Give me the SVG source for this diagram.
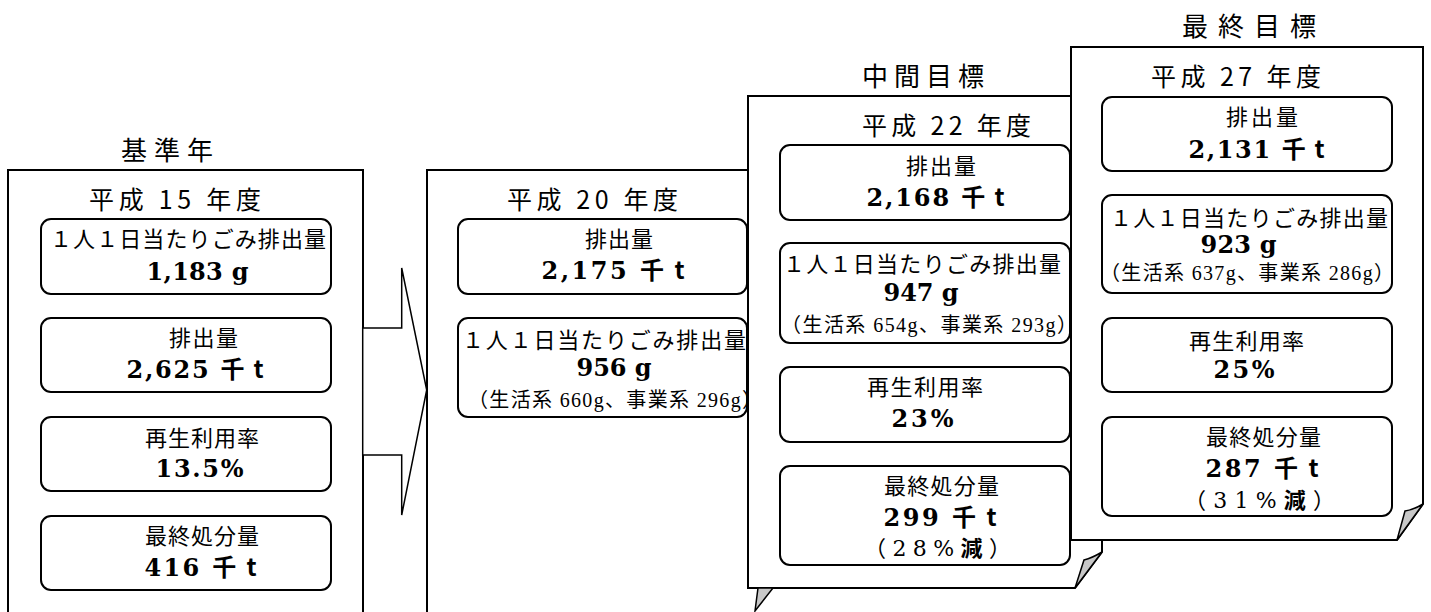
<svg xmlns="http://www.w3.org/2000/svg" width="1431" height="612" viewBox="0 0 1431 612">
<style>
.pan{fill:#fff;stroke:#000;stroke-width:2}
.box{fill:#fff;stroke:#000;stroke-width:2}
.flap{fill:#c8c8c8;stroke:#000;stroke-width:1.5;stroke-linejoin:miter}
.arr{fill:#fff;stroke:#000;stroke-width:1.5}
.tt{font-family:"Noto Sans CJK JP","Noto Sans CJK SC",sans-serif;font-size:26px;fill:#000}
.yr{font-family:"Noto Sans CJK JP","Noto Sans CJK SC",sans-serif;font-size:25px;fill:#000}
.lb{font-family:"Noto Sans CJK JP","Noto Sans CJK SC",sans-serif;font-size:22px;fill:#000}
.nm{font-family:"DejaVu Serif","Noto Sans CJK JP",serif;font-size:24px;font-weight:bold;fill:#000}
.u{font-family:"Noto Sans CJK JP","Noto Sans CJK SC",sans-serif;font-weight:bold}
.sb{font-family:"Liberation Serif","Noto Sans CJK JP",serif;font-size:20px;fill:#000}
.pc{font-family:"DejaVu Serif","Noto Sans CJK JP",serif;font-size:22px;fill:#000}
</style>

<g id="p1">
<rect class="pan" x="8" y="170" width="355" height="460"/>
<text class="tt" x="121" y="160" textLength="92" lengthAdjust="spacing">基準年</text>
<text class="yr" x="89" y="208.5" textLength="172" lengthAdjust="spacing">平成 15 年度</text>
<rect class="box" x="41" y="219" width="290" height="75" rx="10"/>
<text class="lb" x="50" y="247" textLength="276" lengthAdjust="spacing">１人１日当たりごみ排出量</text>
<text class="nm" x="146.5" y="280" textLength="102" lengthAdjust="spacing">1,183 g</text>
<rect class="box" x="41" y="318" width="290" height="74" rx="10"/>
<text class="lb" x="169" y="345.5" textLength="69" lengthAdjust="spacing">排出量</text>
<text class="nm" x="126.5" y="378" textLength="137" lengthAdjust="spacing">2,625 <tspan class="u">千 t</tspan></text>
<rect class="box" x="41" y="417" width="290" height="74" rx="10"/>
<text class="lb" x="145" y="445.5" textLength="114" lengthAdjust="spacing">再生利用率</text>
<text class="nm" x="155.5" y="477" textLength="88" lengthAdjust="spacing">13.5%</text>
<rect class="box" x="41" y="516" width="290" height="74" rx="10"/>
<text class="lb" x="145" y="543.5" textLength="114" lengthAdjust="spacing">最終処分量</text>
<text class="nm" x="144.5" y="575.5" textLength="112" lengthAdjust="spacing">416 <tspan class="u">千 t</tspan></text>
</g>

<g id="connectors">
<polygon class="arr" points="362.7,328 401.7,328 401.7,268 426.7,390 401.7,515 401.7,455 362.7,455"/>
</g>

<g id="p2">
<rect x="427" y="170" width="330" height="460" fill="#fff"/>
<path d="M427,640 V170 H757" fill="none" stroke="#000" stroke-width="2"/>
<text class="yr" x="507" y="209" textLength="171" lengthAdjust="spacing">平成 20 年度</text>
<rect class="box" x="458" y="219" width="289" height="75" rx="10"/>
<text class="lb" x="585" y="246.5" textLength="68" lengthAdjust="spacing">排出量</text>
<text class="nm" x="541.5" y="278.5" textLength="143" lengthAdjust="spacing">2,175 <tspan class="u">千 t</tspan></text>
<rect class="box" x="458" y="318" width="289" height="99" rx="10"/>
<text class="lb" x="462" y="348" textLength="284" lengthAdjust="spacing">１人１日当たりごみ排出量</text>
<text class="nm" x="576.5" y="376" textLength="75" lengthAdjust="spacing">956 g</text>
<text class="sb" x="468" y="407" textLength="294" lengthAdjust="spacing">（生活系 660g、事業系 296g）</text>
</g>

<g id="p3">
<text class="tt" x="862" y="86" textLength="122" lengthAdjust="spacing">中間目標</text>
<path class="pan" d="M748,96 H1102 V552 L1075,588 H748 Z"/>
<path class="flap" d="M1075,588 L1084,560 Q1092,558 1102,552 Z"/>
<path class="flap" d="M758,588 L773,588 L755,611 Z"/>
<text class="yr" x="862" y="135" textLength="169" lengthAdjust="spacing">平成 22 年度</text>
<rect class="box" x="780" y="145" width="290" height="75" rx="10"/>
<text class="lb" x="906" y="173.5" textLength="70" lengthAdjust="spacing">排出量</text>
<text class="nm" x="866.5" y="206" textLength="138" lengthAdjust="spacing">2,168 <tspan class="u">千 t</tspan></text>
<rect class="box" x="780" y="243" width="290" height="100" rx="10"/>
<text class="lb" x="783" y="271.5" textLength="278" lengthAdjust="spacing">１人１日当たりごみ排出量</text>
<text class="nm" x="883.5" y="301" textLength="75" lengthAdjust="spacing">947 g</text>
<text class="sb" x="781" y="332" textLength="296" lengthAdjust="spacing">（生活系 654g、事業系 293g）</text>
<rect class="box" x="780" y="367" width="290" height="75" rx="10"/>
<text class="lb" x="867" y="394.5" textLength="116" lengthAdjust="spacing">再生利用率</text>
<text class="nm" x="891.5" y="427" textLength="62" lengthAdjust="spacing">23%</text>
<rect class="box" x="780" y="466" width="290" height="99" rx="10"/>
<text class="lb" x="884" y="493.5" textLength="115" lengthAdjust="spacing">最終処分量</text>
<text class="nm" x="883.5" y="526" textLength="113" lengthAdjust="spacing">299 <tspan class="u">千 t</tspan></text>
<text class="pc" x="864" y="556" textLength="147" lengthAdjust="spacing">（28%<tspan class="u" font-weight="normal">減</tspan>）</text>
</g>

<g id="p4">
<text class="tt" x="1182" y="36" textLength="134" lengthAdjust="spacing">最終目標</text>
<path class="pan" d="M1071,47 H1423 V504 L1397,540 H1071 Z"/>
<path class="flap" d="M1397,540 L1405,511 Q1413,510 1423,504 Z"/>
<text class="yr" x="1151" y="86" textLength="170" lengthAdjust="spacing">平成 27 年度</text>
<rect class="box" x="1102" y="97" width="290" height="74" rx="10"/>
<text class="lb" x="1226" y="125" textLength="72" lengthAdjust="spacing">排出量</text>
<text class="nm" x="1188.5" y="157.5" textLength="136" lengthAdjust="spacing">2,131 <tspan class="u">千 t</tspan></text>
<rect class="box" x="1102" y="195" width="290" height="98" rx="10"/>
<text class="lb" x="1110" y="225.5" textLength="278" lengthAdjust="spacing">１人１日当たりごみ排出量</text>
<text class="nm" x="1200.5" y="253" textLength="76" lengthAdjust="spacing">923 g</text>
<text class="sb" x="1100" y="280" textLength="294" lengthAdjust="spacing">（生活系 637g、事業系 286g）</text>
<rect class="box" x="1102" y="318" width="290" height="74" rx="10"/>
<text class="lb" x="1189" y="348.5" textLength="115" lengthAdjust="spacing">再生利用率</text>
<text class="nm" x="1213.5" y="378" textLength="61" lengthAdjust="spacing">25%</text>
<rect class="box" x="1102" y="417" width="290" height="99" rx="10"/>
<text class="lb" x="1206" y="445" textLength="115" lengthAdjust="spacing">最終処分量</text>
<text class="nm" x="1205.5" y="477" textLength="113" lengthAdjust="spacing">287 <tspan class="u">千 t</tspan></text>
<text class="pc" x="1184" y="508" textLength="151" lengthAdjust="spacing">（31%<tspan class="u" font-weight="normal">減</tspan>）</text>
</g>
</svg>
